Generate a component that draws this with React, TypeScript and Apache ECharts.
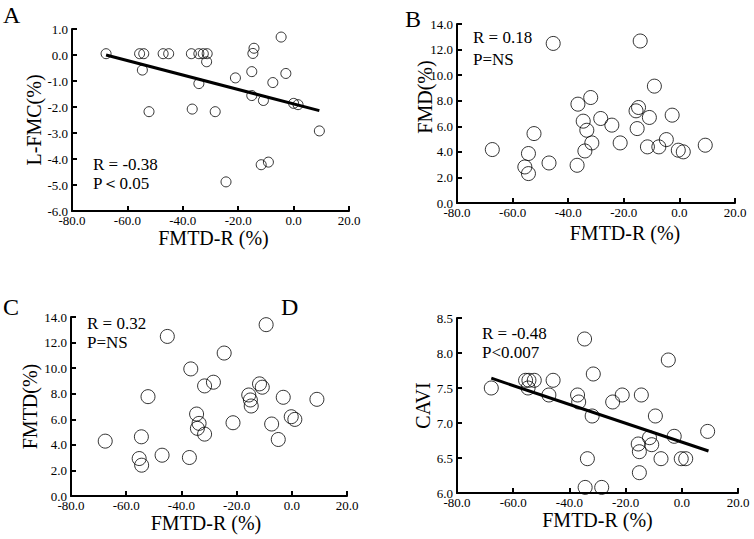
import React, { useEffect, useRef } from "react";
import * as echarts from "echarts";

// Panel A: L-FMC vs FMTD-R
const aX = [-67.7, -55.6, -54.1, -54.6, -52.2, -47.1, -45.1, -36.9, -34.2, -32.6, -31.2, -31.4, -34.2, -36.6, -28.3, -24.4, -21.0, -15.1, -15.1, -14.7, -14.3, -10.9, -11.7, -9.1, -7.5, -4.5, -2.8, 0.0, 1.6, 9.3];
const aY = [0.05, 0.05, 0.05, -0.58, -2.18, 0.05, 0.05, 0.05, 0.05, 0.05, 0.05, -0.26, -1.1, -2.08, -2.18, -4.88, -0.88, -0.64, -1.56, 0.06, 0.26, -1.75, -4.22, -4.12, -1.06, 0.69, -0.71, -1.86, -1.91, -2.92];
const fitAX = [-67.7, 9.3];
const fitAY = [0.0, -2.14];

// Panel B: FMD vs FMTD-R
const bX = [-67.3, -55.6, -54.3, -54.3, -52.3, -46.9, -45.4, -36.8, -36.5, -34.6, -34.0, -33.3, -31.9, -31.5, -28.3, -24.3, -21.3, -15.6, -14.7, -15.2, -14.1, -11.5, -10.8, -9.0, -7.4, -4.7, -2.6, -0.4, 1.4, 9.3];
const bY = [4.18, 2.82, 3.87, 2.3, 5.43, 3.13, 12.48, 2.95, 7.73, 6.4, 4.07, 5.69, 8.25, 4.7, 6.61, 6.09, 4.7, 7.21, 7.47, 5.82, 12.67, 4.39, 6.69, 9.14, 4.39, 4.96, 6.87, 4.13, 4.0, 4.52];

// Panel C: FMTD vs FMTD-R
const cX = [-67.6, -54.5, -55.3, -54.4, -52.1, -47.0, -45.1, -37.1, -36.6, -34.5, -33.6, -34.2, -31.6, -31.6, -28.4, -24.5, -21.3, -15.6, -15.0, -14.7, -11.7, -10.7, -9.3, -7.3, -4.9, -3.1, -0.2, 1.1, 9.1];
const cY = [4.29, 4.63, 2.93, 2.41, 7.77, 3.19, 12.48, 3.01, 9.94, 6.41, 5.68, 5.29, 8.61, 4.84, 8.9, 11.18, 5.73, 7.9, 7.51, 7.04, 8.77, 8.51, 13.4, 5.63, 4.42, 7.72, 6.2, 5.99, 7.56];

// Panel D: CAVI vs FMTD-R
const dX = [-67.8, -55.6, -54.4, -54.7, -52.5, -47.3, -45.8, -37.1, -36.7, -34.6, -34.4, -33.6, -31.5, -31.9, -28.5, -24.6, -21.2, -15.5, -15.1, -15.1, -14.4, -11.5, -10.7, -9.4, -7.4, -4.8, -2.7, -0.2, 1.4, 9.2];
const dY = [7.5, 7.61, 7.61, 7.5, 7.61, 7.4, 7.61, 7.4, 7.3, 8.2, 6.08, 6.49, 7.7, 7.1, 6.08, 7.3, 7.4, 6.7, 6.59, 6.29, 7.4, 6.79, 6.69, 7.1, 6.49, 7.9, 6.81, 6.49, 6.49, 6.88];
const fitDX = [-67.8, 9.5];
const fitDY = [7.64, 6.6];

const xTitle = "FMTD-R (%)";
const yTitles = ["L-FMC(%)", "FMD(%)", "FMTD(%)", "CAVI"];
const panelLetters = ["A", "B", "C", "D"];
const statR = ["R = -0.38", "R = 0.18", "R = 0.32", "R = -0.48"];
const statP = ["P\uFF1C0.05", "P=NS", "P=NS", "P<0.007"];

const SERIF = "Liberation Serif";

const zip = (xs: number[], ys: number[]) => xs.map((x, i) => [x, ys[i]]);

export default function App() {
  const ref = useRef<HTMLDivElement>(null);
  useEffect(() => {
    if (!ref.current) return;
    const chart = echarts.init(ref.current, null, { renderer: "svg" });

    const grids = [
      { left: 72, top: 29, width: 277, height: 182 },
      { left: 457, top: 24, width: 278, height: 179 },
      { left: 71, top: 317, width: 276, height: 179 },
      { left: 457, top: 318, width: 281, height: 175 },
    ];
    const yRanges = [
      { min: -6, max: 1, interval: 1 },
      { min: 0, max: 14, interval: 2 },
      { min: 0, max: 14, interval: 2 },
      { min: 6, max: 8.5, interval: 0.5 },
    ];
    const yNameGaps = [25, 22, 23, 17];
    const xNameGaps = [13, 20, 7, 16];
    const xNamePads = [[0, 0, 0, 6], [0, 0, 0, 58], [0, 6, 0, 0], [0, 0, 0, 0]];

    const axisLine = { show: true, onZero: false, lineStyle: { color: "#000", width: 2 } };
    const axisTick = { show: true, inside: true, length: 5, lineStyle: { color: "#000", width: 2 } };

    const xAxis = grids.map((_, i) => ({
      type: "value",
      gridIndex: i,
      min: -80,
      max: 20,
      interval: 20,
      axisLine,
      axisTick,
      splitLine: { show: false },
      axisLabel: {
        color: "#000",
        fontFamily: SERIF,
        fontSize: 13,
        margin: 3,
        showMinLabel: true,
        showMaxLabel: true,
        formatter: (v: number) => v.toFixed(1),
      },
      name: xTitle,
      nameLocation: "middle",
      nameGap: xNameGaps[i],
      nameTextStyle: { color: "#000", fontFamily: SERIF, fontSize: 20, padding: xNamePads[i] },
    }));

    const yAxis = grids.map((_, i) => ({
      type: "value",
      gridIndex: i,
      ...yRanges[i],
      axisLine,
      axisTick,
      splitLine: { show: false },
      axisLabel: {
        color: "#000",
        fontFamily: SERIF,
        fontSize: 13,
        margin: 4,
        showMinLabel: true,
        showMaxLabel: true,
        formatter: (v: number) => v.toFixed(1),
      },
      // panel B's title sits off-centre in the reference; it is drawn as a graphic below
      name: i === 1 ? "" : yTitles[i],
      nameLocation: "middle",
      nameGap: yNameGaps[i],
      nameTextStyle: { color: "#000", fontFamily: SERIF, fontSize: 20 },
    }));

    const scatterStyle = { color: "transparent", borderColor: "#000", borderWidth: 1 };
    const datasets = [zip(aX, aY), zip(bX, bY), zip(cX, cY), zip(dX, dY)];
    const sizes = [10, 14, 14, 14];
    const series: any[] = datasets.map((d, i) => ({
      type: "scatter",
      xAxisIndex: i,
      yAxisIndex: i,
      data: d,
      symbol: "circle",
      symbolSize: sizes[i],
      itemStyle: scatterStyle,
      z: 3,
    }));
    series.push({
      type: "line",
      xAxisIndex: 0,
      yAxisIndex: 0,
      data: zip(fitAX, fitAY),
      showSymbol: false,
      symbol: "none",
      lineStyle: { color: "#000", width: 3 },
      z: 2,
    });
    series.push({
      type: "line",
      xAxisIndex: 3,
      yAxisIndex: 3,
      data: zip(fitDX, fitDY),
      showSymbol: false,
      symbol: "none",
      lineStyle: { color: "#000", width: 3 },
      z: 2,
    });

    const letterPos = [[3, 3], [405, 7], [3, 295], [281, 295]];
    const statPos = [[93, 156, 175], [473, 29, 51], [87, 315, 334], [482, 325, 344]];
    const graphic: any[] = [];
    panelLetters.forEach((t, i) => {
      graphic.push({
        type: "text",
        left: letterPos[i][0],
        top: letterPos[i][1],
        style: { text: t, fontFamily: SERIF, fontSize: 24, fill: "#000" },
      });
    });
    statR.forEach((t, i) => {
      graphic.push({
        type: "text",
        left: statPos[i][0],
        top: statPos[i][1],
        style: { text: t, fontFamily: SERIF, fontSize: 17, fill: "#000" },
      });
      graphic.push({
        type: "text",
        left: statPos[i][0],
        top: statPos[i][2],
        style: { text: statP[i], fontFamily: SERIF, fontSize: 17, fill: "#000" },
      });
    });
    graphic.push({
      type: "text",
      x: 425,
      y: 97,
      rotation: Math.PI / 2,
      style: {
        text: yTitles[1],
        fontFamily: SERIF,
        fontSize: 20,
        fill: "#000",
        align: "center",
        verticalAlign: "middle",
      },
    });

    chart.setOption({
      animation: false,
      backgroundColor: "#fff",
      grid: grids,
      xAxis,
      yAxis,
      series,
      graphic,
    });
    return () => chart.dispose();
  }, []);
  return <div ref={ref} style={{ position: "absolute", left: 0, top: 0, width: 754, height: 539 }} />;
}
